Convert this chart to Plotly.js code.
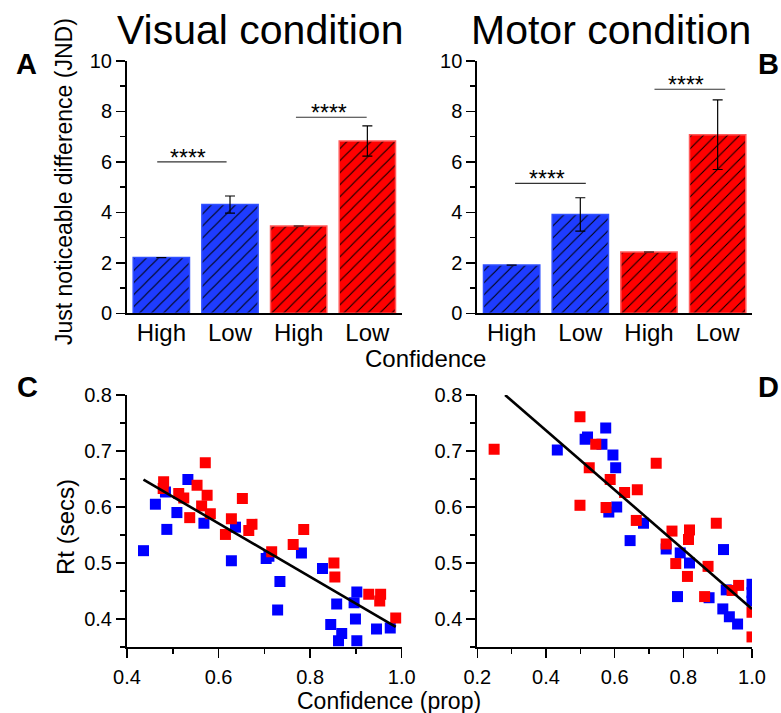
<!DOCTYPE html>
<html>
<head>
<meta charset="utf-8">
<script src="https://cdn.plot.ly/plotly-3.0.1.min.js"></script>
<style>html,body{margin:0;padding:0;background:#fff}#chart{width:781px;height:713px}</style>
</head>
<body>
<div id="chart"></div>
<script>
// ---- data ----
const barPositions = [0, 1, 2, 3];
const barLabels = ['High', 'Low', 'High', 'Low'];
const visualJND = [2.21, 4.31, 3.46, 6.83];
const visualErr = [0, 0.34, 0, 0.60];
const motorJND = [1.91, 3.92, 2.43, 7.08];
const motorErr = [0, 0.66, 0, 1.38];
const barGroupColors = ['#1e3cff', '#ff0000'];
const barGroupEdges = ['#3050ff', '#ff5a5a'];

// significance brackets (x0, x1, y, star x)
const sigVisualX0 = [-0.06, 1.96];
const sigVisualX1 = [0.95, 2.99];
const sigVisualY = [6.0, 7.77];
const sigVisualStarX = [0.39, 2.44];
const sigMotorX0 = [0.05, 2.08];
const sigMotorX1 = [1.08, 3.11];
const sigMotorY = [5.15, 8.88];
const sigMotorStarX = [0.51, 2.54];
const sigLabel = '****';

// panel C (visual) scatter
const cRedX = [0.480, 0.479, 0.513, 0.524, 0.537, 0.553, 0.571, 0.575, 0.563, 0.582, 0.615, 0.628, 0.652, 0.666, 0.673, 0.716, 0.763, 0.786, 0.852, 0.854, 0.928, 0.954, 0.952, 0.987];
const cRedY = [0.645, 0.633, 0.624, 0.616, 0.581, 0.639, 0.679, 0.621, 0.602, 0.588, 0.551, 0.579, 0.615, 0.558, 0.569, 0.520, 0.533, 0.560, 0.500, 0.475, 0.444, 0.444, 0.432, 0.402];
const cBlueX = [0.436, 0.462, 0.487, 0.484, 0.509, 0.533, 0.568, 0.628, 0.637, 0.704, 0.710, 0.734, 0.729, 0.781, 0.827, 0.858, 0.896, 0.902, 0.899, 0.845, 0.869, 0.862, 0.902, 0.945, 0.975];
const cBlueY = [0.522, 0.605, 0.560, 0.627, 0.590, 0.649, 0.571, 0.504, 0.564, 0.508, 0.512, 0.467, 0.416, 0.518, 0.490, 0.427, 0.429, 0.448, 0.400, 0.390, 0.374, 0.361, 0.361, 0.382, 0.384];
const cFitX = [0.436, 0.987];
const cFitY = [0.649, 0.386];

// panel D (motor) scatter
const dRedX = [0.249, 0.499, 0.545, 0.526, 0.587, 0.499, 0.575, 0.629, 0.666, 0.721, 0.663, 0.767, 0.818, 0.815, 0.896, 0.750, 0.778, 0.872, 0.812, 0.862, 0.942, 0.961, 1.0, 1.0];
const dRedY = [0.703, 0.761, 0.712, 0.670, 0.649, 0.603, 0.599, 0.626, 0.631, 0.678, 0.576, 0.557, 0.559, 0.542, 0.571, 0.534, 0.499, 0.494, 0.476, 0.440, 0.451, 0.460, 0.412, 0.368];
const dBlueX = [0.433, 0.574, 0.514, 0.521, 0.563, 0.595, 0.603, 0.583, 0.606, 0.645, 0.684, 0.750, 0.791, 0.818, 0.917, 0.783, 0.875, 0.925, 0.915, 0.934, 0.958, 1.0, 1.0, 1.0];
const dBlueY = [0.702, 0.741, 0.721, 0.725, 0.712, 0.693, 0.670, 0.591, 0.600, 0.540, 0.571, 0.525, 0.518, 0.500, 0.524, 0.440, 0.438, 0.452, 0.418, 0.404, 0.391, 0.462, 0.447, 0.432];
const dFitX = [0.281, 1.0];
const dFitY = [0.800, 0.418];

// ---- layout helpers (pixel -> paper) ----
const W = 781, H = 713;
const M = {l: 127, r: 29, t: 61, b: 66};
const PW = W - M.l - M.r, PH = H - M.t - M.b;
const px = v => (v - M.l) / PW;
const py = v => (H - M.b - v) / PH;

const FONT = 'Liberation Sans, Arial, Helvetica, sans-serif';
const BLUE = '#0000ff', RED = '#ff0000';

// one trace per colour group (High/Low of each condition)
function barTraces(y, err, xa, ya) {
  const out = [];
  for (let g = 0; g < 2; g++) {
    const s = g * 2, e = s + 2;
    out.push({
      type: 'bar', x: barPositions.slice(s, e), y: y.slice(s, e), xaxis: xa, yaxis: ya, width: 0.82,
      marker: {
        color: barGroupColors[g],
        line: {color: barGroupEdges[g], width: 1.5},
        pattern: {shape: '/', fgcolor: '#000000', bgcolor: barGroupColors[g], size: 8.5, solidity: 0.12, fillmode: 'replace'}
      },
      error_y: {type: 'data', array: err.slice(s, e), visible: true, color: '#000000', thickness: 1.2, width: 5},
      hoverinfo: 'skip'
    });
  }
  return out;
}
function pts(x, y, color, xa, ya) {
  return {type: 'scatter', mode: 'markers', x: x, y: y, xaxis: xa, yaxis: ya,
    marker: {symbol: 'square', size: 11, color: color, line: {width: 0}}, hoverinfo: 'skip'};
}
function fit(x, y, xa, ya) {
  return {type: 'scatter', mode: 'lines', x: x, y: y, xaxis: xa, yaxis: ya,
    line: {color: '#000000', width: 2.6}, hoverinfo: 'skip'};
}

const traces = [].concat(
  barTraces(visualJND, visualErr, 'x', 'y'),
  barTraces(motorJND, motorErr, 'x2', 'y2'),
  [
    pts(cBlueX, cBlueY, BLUE, 'x3', 'y3'),
    pts(cRedX, cRedY, RED, 'x3', 'y3'),
    fit(cFitX, cFitY, 'x3', 'y3'),
    pts(dBlueX, dBlueY, BLUE, 'x4', 'y4'),
    pts(dRedX, dRedY, RED, 'x4', 'y4'),
    fit(dFitX, dFitY, 'x4', 'y4')
  ]
);

const xDomA = [0, px(401.7)], xDomB = [px(477.3), 1];
const yDomBar = [py(313.3), 1], yDomSc = [0, py(395)];

const tickFont = {family: FONT, size: 20, color: '#000'};
const axBase = {showline: true, linecolor: '#000', linewidth: 2, showgrid: false, zeroline: false,
  ticks: 'outside', ticklen: 9, tickwidth: 1.5, tickcolor: '#000', tickfont: tickFont, fixedrange: true};

function barX(dom) {
  return Object.assign({}, axBase, {domain: dom, range: [-0.5, 3.5], tickmode: 'array', tickvals: barPositions,
    ticktext: barLabels, ticks: '', tickfont: {family: FONT, size: 24, color: '#000'}, ticklabelstandoff: -3});
}
function barY(dom, anchor) {
  return Object.assign({}, axBase, {domain: dom, anchor: anchor, range: [0, 10], dtick: 2, tick0: 0,
    minor: {dtick: 1, ticks: 'outside', ticklen: 5, tickwidth: 1.5, tickcolor: '#000', showgrid: false}});
}
function scX(dom, anchor, lo) {
  return Object.assign({}, axBase, {domain: dom, anchor: anchor, range: [lo, 1.0], dtick: 0.2, tick0: 0, tickformat: '.1f',
    ticklabelstandoff: 2,
    minor: {dtick: 0.1, ticks: 'outside', ticklen: 5, tickwidth: 1.5, tickcolor: '#000', showgrid: false}});
}
function scY(anchor) {
  return Object.assign({}, axBase, {domain: yDomSc, anchor: anchor, range: [0.35, 0.8], dtick: 0.1, tick0: 0, tickformat: '.1f',
    minor: {dtick: 0.05, ticks: 'outside', ticklen: 5, tickwidth: 1.5, tickcolor: '#000', showgrid: false}});
}

const shapes = [];
const annotations = [];
function addSig(x0s, x1s, ys, sx, xr, yr) {
  for (let i = 0; i < ys.length; i++) {
    shapes.push({type: 'line', xref: xr, yref: yr, x0: x0s[i], x1: x1s[i], y0: ys[i], y1: ys[i],
      line: {color: '#333', width: 1.2}});
    annotations.push({xref: xr, yref: yr, x: sx[i], y: ys[i], text: sigLabel, showarrow: false,
      xanchor: 'center', yanchor: 'middle', yshift: 4, font: {family: FONT, size: 23, color: '#000'}});
  }
}
addSig(sigVisualX0, sigVisualX1, sigVisualY, sigVisualStarX, 'x', 'y');
addSig(sigMotorX0, sigMotorX1, sigMotorY, sigMotorStarX, 'x2', 'y2');

function txt(t, x, y, size, opts) {
  annotations.push(Object.assign({xref: 'paper', yref: 'paper', x: px(x), y: py(y), text: t, showarrow: false,
    xanchor: 'center', yanchor: 'middle', font: {family: FONT, size: size, color: '#000'}}, opts || {}));
}
txt('Visual condition', 260, 30, 41);
txt('Motor condition', 611, 30, 41);
txt('<b>A</b>', 26, 64, 29);
txt('<b>B</b>', 769, 64, 29);
txt('<b>C</b>', 28, 387, 29);
txt('<b>D</b>', 769, 387, 29);
txt('Just noticeable difference (JND)', 64, 182, 23, {textangle: -90});
txt('Confidence', 425, 358, 24);
txt('Rt (secs)', 65, 527, 24, {textangle: -90});
txt('Confidence (prop)', 389, 701, 23);

const layout = {
  width: W, height: H, margin: M, paper_bgcolor: '#fff', plot_bgcolor: '#fff', showlegend: false,
  font: {family: FONT, color: '#000'},
  xaxis: Object.assign(barX(xDomA), {anchor: 'y'}),
  yaxis: barY(yDomBar, 'x'),
  xaxis2: Object.assign(barX(xDomB), {anchor: 'y2'}),
  yaxis2: barY(yDomBar, 'x2'),
  xaxis3: scX(xDomA, 'y3', 0.4),
  yaxis3: scY('x3'),
  xaxis4: scX(xDomB, 'y4', 0.2),
  yaxis4: scY('x4'),
  shapes: shapes,
  annotations: annotations,
  bargap: 0,
  barmode: 'overlay'
};

Plotly.newPlot('chart', traces, layout, {displayModeBar: false, staticPlot: true});
</script>
</body>
</html>
